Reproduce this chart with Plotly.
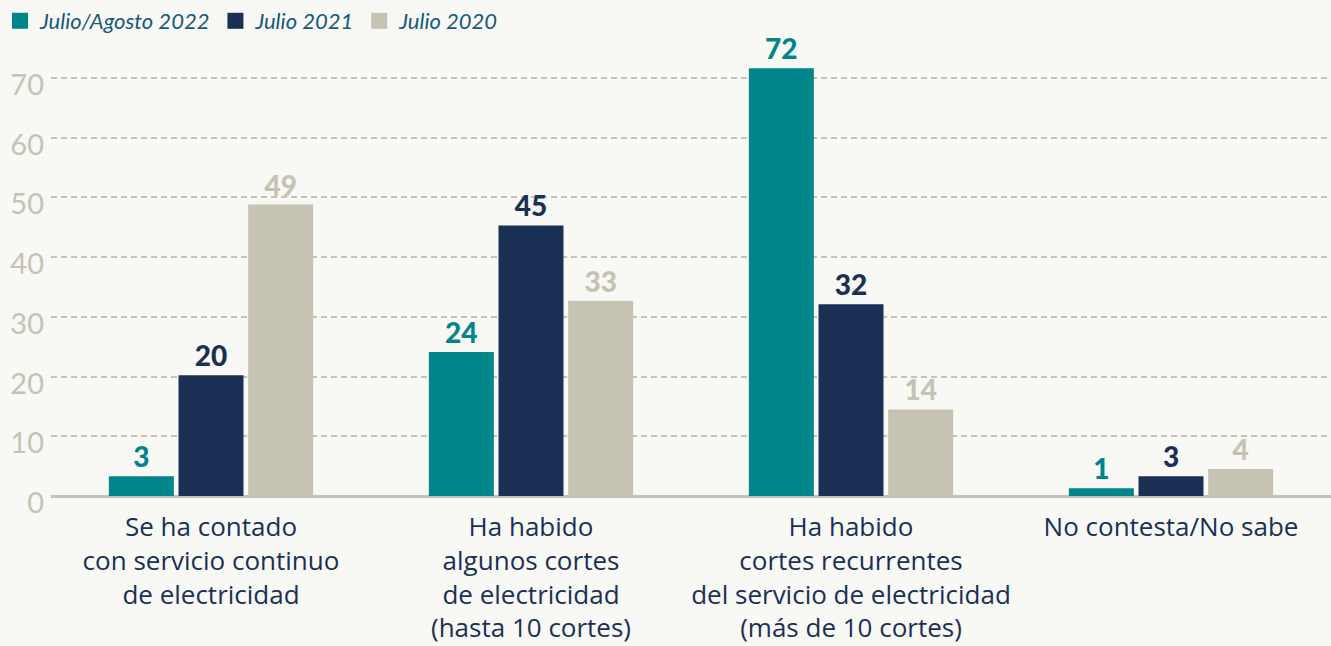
import plotly.graph_objects as go

categories = [
    "Se ha contado<br>con servicio continuo<br>de electricidad",
    "Ha habido<br>algunos cortes<br>de electricidad<br>(hasta 10 cortes)",
    "Ha habido<br>cortes recurrentes<br>del servicio de electricidad<br>(más de 10 cortes)",
    "No contesta/No sabe",
]
series_names = ["Julio/Agosto 2022", "Julio 2021", "Julio 2020"]
values_2022 = [3.3, 24.1, 71.6, 1.3]
values_2021 = [20.2, 45.3, 32.1, 3.3]
values_2020 = [48.8, 32.7, 14.5, 4.5]
labels_2022 = ["3", "24", "72", "1"]
labels_2021 = ["20", "45", "32", "3"]
labels_2020 = ["49", "33", "14", "4"]
y_ticks = [0, 10, 20, 30, 40, 50, 60, 70]

colors = ["#00868a", "#1b3055", "#c6c3b5"]
bg = "#f8f8f4"
font_family = "Lato, 'Open Sans', sans-serif"
label_family = "'Open Sans', Lato, sans-serif"

fig = go.Figure()
for name, vals, labs, col in zip(series_names,
                                 [values_2022, values_2021, values_2020],
                                 [labels_2022, labels_2021, labels_2020],
                                 colors):
    fig.add_trace(go.Bar(
        x=categories, y=vals, name=name, marker_color=col, marker_line_width=0,
        text=labs, textposition="outside", cliponaxis=False,
        textfont=dict(family=font_family, size=28, color=col, weight=900),
        showlegend=False, hoverinfo="skip",
    ))
    fig.add_trace(go.Scatter(
        x=[None], y=[None], mode="markers", name=name,
        marker=dict(symbol="square", size=20, color=col),
        showlegend=True,
    ))

fig.update_layout(
    width=1331, height=646,
    paper_bgcolor=bg, plot_bgcolor=bg,
    margin=dict(l=51, r=0, t=48, b=150),
    barmode="group", bargap=0.347, bargroupgap=0.067,
    legend=dict(
        orientation="h", xref="container", yref="container",
        x=0.0, y=1.0, xanchor="left", yanchor="top",
        font=dict(family=font_family, size=22, color="#165a7a", style="italic"),
        bgcolor="rgba(0,0,0,0)", itemwidth=30, tracegroupgap=0,
    ),
    xaxis=dict(
        showgrid=False, showline=False, ticks="",
        tickfont=dict(family=label_family, size=26, color="#1b3055", weight=500),
        ticklabelstandoff=13,
    ),
    yaxis=dict(
        range=[0, 75], tickvals=y_ticks,
        showgrid=True, gridcolor="#c6c3b5", gridwidth=2, griddash="6px,4px",
        zeroline=True, zerolinecolor="#c6c3b5", zerolinewidth=3,
        showline=False, ticks="",
        tickfont=dict(family=font_family, size=29, color="#c6c3b5"),
        ticklabelstandoff=6, ticklabelshift=7,
    ),
)

fig.write_html("out.html", config={"displayModeBar": False},
               post_script="document.body.style.margin='0';")
